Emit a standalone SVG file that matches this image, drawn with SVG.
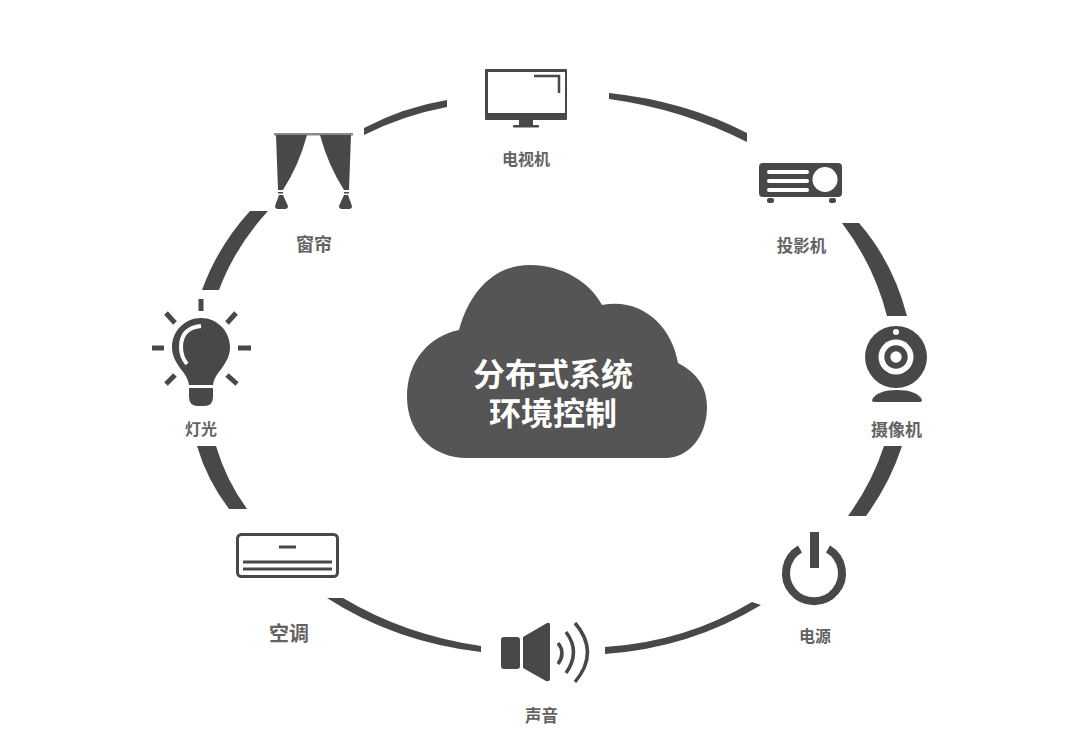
<svg xmlns="http://www.w3.org/2000/svg" width="1080" height="741" viewBox="0 0 1080 741">
<style>
.d{fill:#484848}
.w{fill:#fff}
.s{fill:none;stroke:#484848}
.r{fill:none;stroke:#484848;stroke-width:5}
.l{font-family:"Noto Sans CJK SC","Liberation Sans",sans-serif;font-weight:700;fill:#636363;text-anchor:middle}
.c{font-family:"Noto Sans CJK SC","Liberation Sans",sans-serif;font-weight:700;fill:#fff;text-anchor:middle;font-size:32px}
</style>
<rect width="1080" height="741" fill="#fff"/>
<g id="connectors" class="d">
<path d="M364 128Q404 107 447 100L447 107Q404 115 364 135Z"/>
<path d="M609 93Q685 101 747 133L747 142Q682 109 609 99Z"/>
<path d="M842 223H859Q893 262 907 316H887Q874 265 842 223Z"/>
<path d="M884 446H902Q890 483 866 516H848Q872 483 884 446Z"/>
<path d="M605 647Q685 642 752 602L761 605Q690 648 605 654Z"/>
<path d="M327 598H343Q405 635 481 646V652Q395 642 327 598Z"/>
<path d="M197 446H216Q226 480 247 509H229Q207 480 197 446Z"/>
<path d="M202 290Q218 246 250 211H268Q235 247 219 290Z"/>
</g>
<g id="cloud">
<path fill="#555" d="M467 458C430 458 407 430 407 397C407 360 430 336 459 330C470 290 495 265 530 265C562 265 590 282 602 305C640 297 672 325 678 363C695 372 707 385 707 407C707 435 690 458 665 458Z"/>
<text class="c"><tspan x="553" y="386">分布式系统</tspan><tspan x="553" y="425">环境控制</tspan></text>
</g>
<g id="tv">
<path class="d" fill-rule="evenodd" d="M486 69H566Q567 69 567 70V119Q567 120 566 120H486Q485 120 485 119V70Q485 69 486 69ZM488 72V113H565V72Z"/>
<path class="s" stroke-width="2.500" d="M534 76H559V93"/>
<rect class="d" x="519" y="120" width="14" height="5"/>
<rect class="d" x="513" y="125" width="26" height="2.500" rx="1"/>
<text class="l" x="526" y="165" font-size="16">电视机</text>
</g>
<g id="projector">
<rect class="d" x="759" y="163" width="83" height="34" rx="4"/>
<rect class="w" x="767" y="170" width="42" height="4" rx="2"/>
<rect class="w" x="767" y="179" width="42" height="4" rx="2"/>
<rect class="w" x="767" y="188" width="42" height="4" rx="2"/>
<circle class="w" cx="825" cy="179.500" r="12.500"/>
<rect class="d" x="767" y="198" width="7" height="5" rx="2"/>
<rect class="d" x="829" y="198" width="7" height="5" rx="2"/>
<text class="l" x="801.500" y="252" font-size="16.500">投影机</text>
</g>
<g id="camera">
<circle class="d" cx="896" cy="357" r="31"/>
<circle class="w" cx="896" cy="357" r="17.500"/>
<circle class="d" cx="896" cy="357" r="11.700"/>
<circle class="w" cx="896" cy="357" r="5.700"/>
<circle class="w" cx="896" cy="332" r="3"/>
<path class="d" d="M872 400C875 393 885 390 897 390C909 390 919 393 922 400Q922 402 920 402H874Q872 402 872 400Z"/>
<text class="l" x="896.500" y="436" font-size="17">摄像机</text>
</g>
<g id="power">
<path class="s" stroke-width="8" d="M800 549A28 28 0 1 0 828 549"/>
<rect class="d" x="810" y="532" width="9" height="36"/>
<text class="l" x="815" y="642" font-size="16">电源</text>
</g>
<g id="speaker">
<rect class="d" x="501" y="637" width="19" height="32" rx="3"/>
<path class="d" d="M523 637L547 623Q550 622 550 625V678Q550 682 546 681L523 668Z"/>
<path class="s" stroke-width="3.500" d="M558 643Q566 653 558 664M566 632Q581 652 566 673M575 623Q600 652 575 682"/>
<text class="l" x="541.500" y="722" font-size="16.500">声音</text>
</g>
<g id="ac">
<rect x="237.500" y="534.500" width="100" height="42" rx="4" fill="#fff" stroke="#484848" stroke-width="3"/>
<path class="s" stroke-width="3" d="M279 547H296M243 562H332M243 569H332"/>
<text class="l" x="289" y="641" font-size="20">空调</text>
</g>
<g id="light">
<path class="d" d="M201 318C217 318 230 331 230 347C230 356 226 362 222 368C218 373 214 378 213 385H189C188 378 184 373 180 368C176 362 172 356 172 347C172 331 185 318 201 318Z"/>
<path class="d" d="M189 388H213V397Q213 406 204 406H198Q189 406 189 397Z"/>
<path d="M201 326Q181 328 181 347Q181 357 187 364" fill="none" stroke="#fff" stroke-width="4"/>
<path class="r" d="M201 299V311M152 348H164M238 348H251M166 313L175 323M236 313L227 323M166 384L175 375M227 375L237 384"/>
<text class="l" x="201" y="435" font-size="16">灯光</text>
</g>
<g id="curtain">
<rect x="274" y="133" width="79" height="2.500" fill="#8a8a8a"/>
<path class="d" d="M276 135H307Q299 165 283 190H278Z"/>
<path class="d" d="M320 135H351L349 190H344Q328 165 320 135Z"/>
<rect class="d" x="278" y="192" width="5" height="1.500"/>
<rect class="d" x="344" y="192" width="5" height="1.500"/>
<path class="d" d="M279 195H283L288 206Q288 209 285 209H278Q275 209 275 206Z"/>
<path class="d" d="M344 195H348L352 206Q352 209 349 209H342Q339 209 339 206Z"/>
<text class="l" x="314" y="251" font-size="18">窗帘</text>
</g>
</svg>
